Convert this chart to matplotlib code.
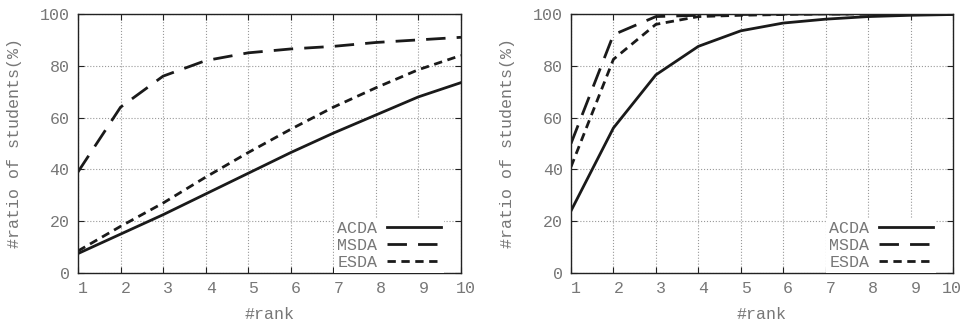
import matplotlib
matplotlib.use('Agg')
import matplotlib.pyplot as plt
from matplotlib.transforms import ScaledTranslation

plt.rcParams['font.family'] = ['Liberation Mono', 'DejaVu Sans Mono']

ranks = [1, 2, 3, 4, 5, 6, 7, 8, 9, 10]

# left panel
acda_l = [7.5, 15, 22.5, 30.5, 38.5, 46.5, 54, 61, 68, 73.5]
msda_l = [39, 64, 76, 82, 85, 86.5, 87.5, 89, 90, 91]
esda_l = [8.5, 18, 27, 37, 46.5, 55.5, 64, 71.5, 78.5, 84]

# right panel
acda_r = [24, 56, 76.5, 87.5, 93.5, 96.5, 98, 99, 99.5, 99.8]
msda_r = [50, 92, 99, 99.5, 99.8, 100, 100, 100, 100, 100]
esda_r = [41, 82.5, 96, 99, 99.5, 99.8, 100, 100, 100, 100]

yticks = [0, 20, 40, 60, 80, 100]
txt_col = '#777777'

fig = plt.figure(figsize=(9.66, 3.23), dpi=100)
ax1 = fig.add_axes([0.0807, 0.1548, 0.3965, 0.8019])
ax2 = fig.add_axes([0.5911, 0.1548, 0.3954, 0.8019])

shift = ScaledTranslation(5 / 100, 0, fig.dpi_scale_trans)
shift_last = ScaledTranslation(-1 / 100, 0, fig.dpi_scale_trans)

for ax, (a, m, e) in zip([ax1, ax2], [(acda_l, msda_l, esda_l), (acda_r, msda_r, esda_r)]):
    ax.plot(ranks, a, color='#1a1a1a', lw=2.0, label='ACDA')
    ax.plot(ranks, m, color='#1a1a1a', lw=2.0, dashes=(7, 4), label='MSDA')
    ax.plot(ranks, e, color='#1a1a1a', lw=2.0, dashes=(3, 2), label='ESDA')
    ax.set_xlim(1, 10)
    ax.set_ylim(0, 100)
    ax.set_xticks(ranks)
    ax.set_yticks(yticks)
    ax.grid(True, color='#999999', linestyle=':', linewidth=0.8)
    ax.tick_params(direction='in', length=4, colors='#222222', labelcolor=txt_col,
                   labelsize=12, top=True, right=True, pad=6)
    labs = ax.get_xticklabels()
    for k, lab in enumerate(labs):
        if ax is ax2 and k == len(labs) - 1:
            lab.set_transform(lab.get_transform() + shift_last)
        else:
            lab.set_transform(lab.get_transform() + shift)
    for s in ax.spines.values():
        s.set_color('#222222')
        s.set_linewidth(1.0)
    ax.set_xlabel('#rank', color=txt_col, fontsize=12, labelpad=8)
    ax.set_ylabel('#ratio of students(%)', color=txt_col, fontsize=12, labelpad=13)
    leg = ax.legend(loc='lower right', bbox_to_anchor=(0.956, 0.0), frameon=True,
                    fontsize=12, handlelength=3.2, markerfirst=False, borderpad=0.2,
                    borderaxespad=0, labelspacing=0.1, handletextpad=0.6, fancybox=False)
    leg.get_frame().set_edgecolor('none')
    leg.get_frame().set_facecolor('white')
    leg.get_frame().set_alpha(1.0)
    for t in leg.get_texts():
        t.set_color(txt_col)

fig.savefig('out.png', dpi=100)
